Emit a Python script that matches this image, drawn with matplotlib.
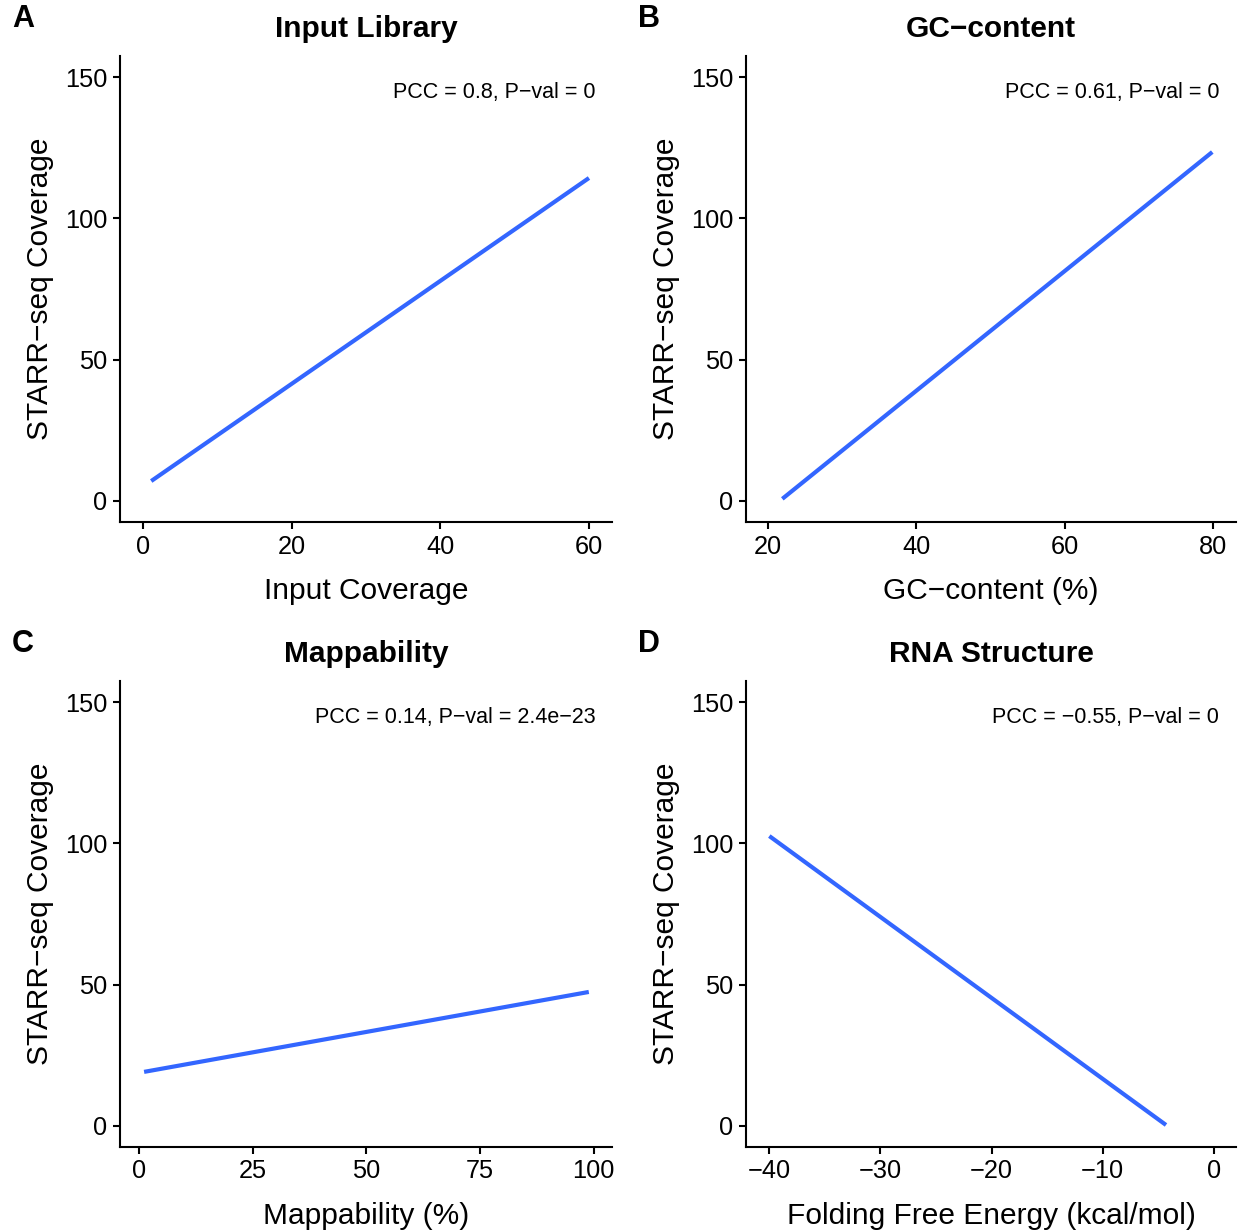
import matplotlib
matplotlib.use("Agg")
import matplotlib.pyplot as plt

plt.rcParams['font.family'] = ['Liberation Sans', 'DejaVu Sans']

# ---- data (fitted lm lines: endpoints) ----
panels = ["A", "B", "C", "D"]
titles = ["Input Library", "GC\u2212content", "Mappability", "RNA Structure"]
xlabels = ["Input Coverage", "GC\u2212content (%)", "Mappability (%)",
           "Folding Free Energy (kcal/mol)"]
ylabel = "STARR\u2212seq Coverage"
annotations = ["PCC = 0.8, P\u2212val = 0",
               "PCC = 0.61, P\u2212val = 0",
               "PCC = 0.14, P\u2212val = 2.4e\u221223",
               "PCC = \u22120.55, P\u2212val = 0"]
line_x_A = [1.1, 60.0]
line_y_A = [7.0, 114.3]
line_x_B = [21.9, 79.9]
line_y_B = [0.7, 123.5]
line_x_C = [1.1, 98.9]
line_y_C = [19.1, 47.4]
line_x_D = [-40.0, -4.3]
line_y_D = [102.6, 0.3]
xticks_A = [0, 20, 40, 60]
xticks_B = [20, 40, 60, 80]
xticks_C = [0, 25, 50, 75, 100]
xticks_D = [-40, -30, -20, -10, 0]
yticks = [0, 50, 100, 150]

lines_x = [line_x_A, line_x_B, line_x_C, line_x_D]
lines_y = [line_y_A, line_y_B, line_y_C, line_y_D]
xticks_all = [xticks_A, xticks_B, xticks_C, xticks_D]
xlims = [(-3.1, 63.1), (17.0, 83.1), (-4.2, 104.0), (-42.1, 2.0)]
ylim = (-7.5, 157.5)

W, H = 1239, 1232
fig = plt.figure(figsize=(W / 100, H / 100), dpi=100)

# axes boxes in pixels: left, right, top, bottom
boxes = [(120, 612, 56, 522), (746, 1236, 56, 522),
         (120, 612, 681, 1147), (746, 1236, 681, 1147)]

def tick_fmt(v):
    s = str(int(v))
    return s.replace("-", "\u2212")

for i in range(4):
    l, r, t, b = boxes[i]
    ax = fig.add_axes([l / W, 1 - b / H, (r - l) / W, (b - t) / H])
    ax.plot(lines_x[i], lines_y[i], color="#3366FF", lw=3.0,
            solid_capstyle="butt")
    ax.set_xlim(*xlims[i])
    ax.set_ylim(*ylim)
    ax.set_xticks(xticks_all[i])
    ax.set_xticklabels([tick_fmt(v) for v in xticks_all[i]])
    ax.set_yticks(yticks)
    ax.set_yticklabels([tick_fmt(v) for v in yticks])
    for s in ["top", "right"]:
        ax.spines[s].set_visible(False)
    for s in ["left", "bottom"]:
        ax.spines[s].set_linewidth(1.5)
        ax.spines[s].set_color("black")
    ax.tick_params(axis="both", direction="out", length=5, width=1.5,
                   labelsize=18.3, colors="black", pad=4)
    ax.set_xlabel(xlabels[i], fontsize=21.5, labelpad=13)
    ax.set_ylabel(ylabel, fontsize=21.5, labelpad=8)
    ax.set_title(titles[i], fontsize=21.5, fontweight="bold", pad=14)
    ax.text(0.966, 0.922, annotations[i], transform=ax.transAxes,
            ha="right", va="center", fontsize=15.5)
    # panel letter
    lx = 12 if i % 2 == 0 else 638
    ly = 19 if i < 2 else 644
    fig.text(lx / W, 1 - ly / H, panels[i], fontsize=22, fontweight="bold",
             ha="left", va="center")

fig.savefig("out.png", dpi=100, facecolor="white")
